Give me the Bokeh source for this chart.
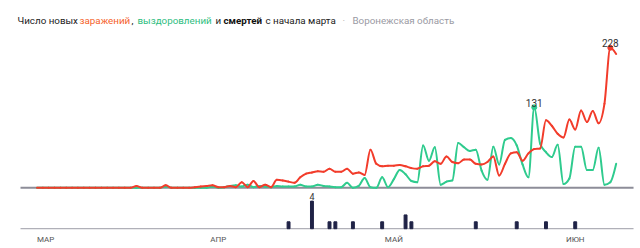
import pandas as pd
from bokeh.plotting import figure
from bokeh.models import Range1d, Label, ColumnDataSource
from bokeh.core.properties import value
from bokeh.embed import file_html
from bokeh.resources import INLINE

# ---------------- data ----------------
start = pd.Timestamp("2020-03-01")
dates = pd.date_range(start, periods=100)

infected = [0] * 17 + [3] + [0, 0, 0, 0] + [4] + [0, 0, 0, 0] + \
    [1, 2, 3, 4, 1, 1, 3, 1] + \
    [9, 1, 11, 1, 5, 1, 13, 12, 10, 8, 17, 23, 25, 27] + \
    [26, 31, 26, 26, 31, 23, 25, 21, 62, 39, 35, 36, 36, 37, 35, 32, 31, 35, 36,
     43, 39, 51, 42, 40, 46, 46, 39, 38, 42, 51, 20, 39, 56, 58, 44, 56, 63, 64,
     110, 101, 88, 82, 111, 95, 126, 107, 125, 105, 137, 228, 218]

recovered = [0] * 22 + [2] + [0] * 7 + \
    [2, 0, 1, 3, 4, 2, 5, 1, 3, 2, 1, 3, 2, 2, 2, 5, 2, 2, 5] + \
    [3, 2, 1, 1, 8, 0, 3, 16, 1, 0, 17, 1, 14, 29, 22, 11, 9, 69, 44, 66, 5, 10,
     12, 73, 66, 60, 62, 28, 13, 67, 38, 78, 81, 69, 38, 17, 131, 72, 58, 50, 70,
     6, 15, 67, 67, 29, 29, 65, 5, 9, 39]

death_dates = ["2020-04-13", "2020-04-17", "2020-04-20", "2020-04-21", "2020-04-24",
               "2020-04-29", "2020-05-03", "2020-05-04", "2020-05-15", "2020-05-22",
               "2020-05-27", "2020-06-01"]
deaths = [1, 4, 1, 1, 1, 1, 2, 1, 1, 1, 1, 1]

month_ticks = ["2020-03-01", "2020-04-01", "2020-05-01", "2020-06-01"]
month_labels = ["МАР", "АПР", "МАЙ", "ИЮН"]

title_parts = ["Число новых", "заражений", ",", "выздоровлений", "и", "смертей",
               "с начала марта", "·", "Воронежская область"]

# ---------------- helpers ----------------
def day(d):
    return (pd.Timestamp(d) - start).days


def sign(v):
    return (v > 0) - (v < 0)


def monotone_segments(xs, ys):
    """Bezier segments of a monotone cubic curve through the given points."""
    n = len(xs)
    s = [(ys[i + 1] - ys[i]) / (xs[i + 1] - xs[i]) for i in range(n - 1)]
    t = [0.0] * n
    for i in range(1, n - 1):
        h0 = xs[i] - xs[i - 1]
        h1 = xs[i + 1] - xs[i]
        pp = (s[i - 1] * h1 + s[i] * h0) / (h0 + h1)
        t[i] = (sign(s[i - 1]) + sign(s[i])) * min(abs(s[i - 1]), abs(s[i]), 0.5 * abs(pp))
    t[0] = (3 * s[0] - t[1]) / 2 if n > 2 else s[0]
    t[-1] = (3 * s[-1] - t[-2]) / 2 if n > 2 else s[-1]
    seg = dict(x0=[], y0=[], x1=[], y1=[], cx0=[], cy0=[], cx1=[], cy1=[])
    for i in range(n - 1):
        dx = (xs[i + 1] - xs[i]) / 3
        seg["x0"].append(xs[i]); seg["y0"].append(ys[i])
        seg["x1"].append(xs[i + 1]); seg["y1"].append(ys[i + 1])
        seg["cx0"].append(xs[i] + dx); seg["cy0"].append(ys[i] + dx * t[i])
        seg["cx1"].append(xs[i + 1] - dx); seg["cy1"].append(ys[i + 1] - dx * t[i + 1])
    return ColumnDataSource(seg)


x_days = [day(d) for d in dates]
death_x = [day(d) for d in death_dates]
month_x = [day(d) for d in month_ticks]

RED = "#f23c2b"
GREEN = "#2fcb8e"
NAVY = "#1f2246"
FONT = "Roboto"

X0, X1 = -6.24, 103.16          # visible day range over the full 640 px width
AX0, AX1 = -2.82, 101.97        # extent of the baselines

p = figure(width=640, height=248, output_backend="svg", toolbar_location=None,
           x_range=Range1d(X0, X1), y_range=Range1d(-98.9, 305.0),
           min_border_left=0, min_border_right=0, min_border_top=0, min_border_bottom=0)
p.extra_y_ranges = {"deaths": Range1d(-2.87, 33.09)}
p.axis.visible = False
p.grid.visible = False
p.outline_line_color = None
p.background_fill_color = "white"
p.border_fill_color = "white"

# baselines
p.segment(x0=[AX0], x1=[AX1], y0=[0], y1=[0], line_color="#8d8d98", line_width=2)
p.segment(x0=[AX0], x1=[AX1], y0=[0], y1=[0], line_color="#9c9ca6", line_width=1,
          y_range_name="deaths")

p.bezier(x0="x0", y0="y0", x1="x1", y1="y1", cx0="cx0", cy0="cy0", cx1="cx1", cy1="cy1",
         source=monotone_segments(x_days, recovered), line_color=GREEN, line_width=2,
         line_cap="round")
p.bezier(x0="x0", y0="y0", x1="x1", y1="y1", cx0="cx0", cy0="cy0", cx1="cx1", cy1="cy1",
         source=monotone_segments(x_days, infected), line_color=RED, line_width=2,
         line_cap="round")

p.vbar(x=death_x, top=deaths, width=0.5, color=NAVY, y_range_name="deaths")

# max annotations
i_inf = infected.index(max(infected))
i_rec = recovered.index(max(recovered))
i_dth = deaths.index(max(deaths))
p.scatter([x_days[i_inf]], [infected[i_inf]], size=5, color=RED)
p.scatter([x_days[i_rec]], [recovered[i_rec]], size=5, color=GREEN)
p.text([x_days[i_inf]], [infected[i_inf] + 7], text=[str(infected[i_inf])],
       text_font=value(FONT), text_font_size="10px", text_color="#333333",
       text_align="center", text_baseline="alphabetic")
p.text([x_days[i_rec]], [recovered[i_rec] + 7], text=[str(recovered[i_rec])],
       text_font=value(FONT), text_font_size="10px", text_color="#333333",
       text_align="center", text_baseline="alphabetic")
p.text([death_x[i_dth]], [deaths[i_dth] + 0.6], text=[str(deaths[i_dth])],
       text_font=value(FONT), text_font_size="9px", text_color="#333333",
       text_align="center", text_baseline="alphabetic", y_range_name="deaths")

# month labels
p.text(month_x[:1], [-1.62], text=month_labels[:1], text_font=value(FONT),
       text_font_size="8px", text_color="#555555", text_align="left",
       text_baseline="alphabetic", y_range_name="deaths")
p.text(month_x[1:], [-1.62] * 3, text=month_labels[1:], text_font=value(FONT),
       text_font_size="8px", text_color="#555555", text_align="center",
       text_baseline="alphabetic", y_range_name="deaths")

# title
title_x = [17, 79, 131, 137, 215, 223, 265, 342, 352]
title_colors = ["#222222", "#f5612a", "#222222", "#2ebd80", "#222222", "#111111",
                "#222222", "#aaaaaa", "#9a9aa3"]
title_weights = ["normal", "normal", "normal", "normal", "normal", "bold",
                 "normal", "normal", "normal"]
for t, xx, c, w in zip(title_parts, title_x, title_colors, title_weights):
    p.add_layout(Label(x=xx, y=228.5, x_units="screen", y_units="screen", text=t,
                       text_font=FONT, text_font_size="9.8px", text_color=c,
                       text_font_style=w, text_baseline="alphabetic"))

open("out.html", "w").write(file_html(p, INLINE))
